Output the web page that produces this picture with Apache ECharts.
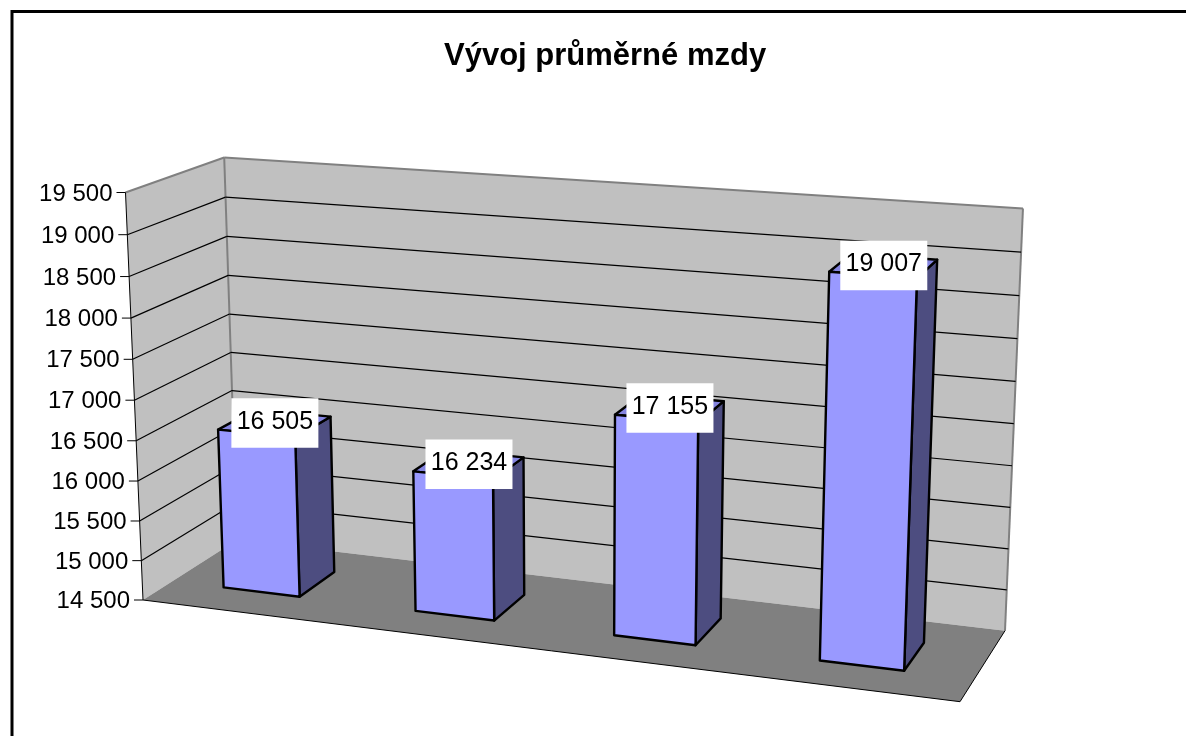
<!DOCTYPE html>
<html>
<head>
<meta charset="utf-8">
<title>Vývoj průměrné mzdy</title>
<script src="https://cdn.jsdelivr.net/npm/echarts@6/dist/echarts.min.js"></script>
<style>
    html, body { margin: 0; padding: 0; background: #fff; }
    #main { width: 1186px; height: 736px; }
</style>
</head>
<body>
<div id="main"></div>
<script>
var titleText = 'Vývoj průměrné mzdy';
var categories = ['1', '2', '3', '4'];
var wages = [16505, 16234, 17155, 19007];
var wageLabels = ['16 505', '16 234', '17 155', '19 007'];
var tickValues = [14500, 15000, 15500, 16000, 16500, 17000, 17500, 18000, 18500, 19000, 19500];
var tickLabels = ['14 500', '15 000', '15 500', '16 000', '16 500', '17 000', '17 500', '18 000', '18 500', '19 000', '19 500'];

// box as seen in the picture, corners go front left, front right, back right, back left
var floorQuad = [[143, 600], [960, 701.7], [1005, 630.7], [237, 540]];
var wallHeights = [407.5, 448, 422.2, 382.5];
var vanish = [576.7, 10700]; // upright edges meet far below the chart
var heightBend = -0.038;     // lower ticks sit a little closer together
var barShare = 0.4;          // share of a category band
var barDepth = [0.3, 0.7];
var bandShift = -0.007;
var labelBox = [87, 49.5];

// unit square -> floor homography
function makeQuad(q) {
    var dx1 = q[1][0] - q[2][0], dx2 = q[3][0] - q[2][0], sx = q[0][0] - q[1][0] + q[2][0] - q[3][0];
    var dy1 = q[1][1] - q[2][1], dy2 = q[3][1] - q[2][1], sy = q[0][1] - q[1][1] + q[2][1] - q[3][1];
    var den = dx1 * dy2 - dx2 * dy1;
    var g = (sx * dy2 - dx2 * sy) / den;
    var h = (dx1 * sy - sx * dy1) / den;
    var a = q[1][0] - q[0][0] + g * q[1][0], b = q[3][0] - q[0][0] + h * q[3][0];
    var d = q[1][1] - q[0][1] + g * q[1][1], e = q[3][1] - q[0][1] + h * q[3][1];
    return function (u, w) {
        var W = g * u + h * w + 1;
        return [(a * u + b * w + q[0][0]) / W, (d * u + e * w + q[0][1]) / W];
    };
}

var floorAt = makeQuad(floorQuad);

// u across the floor, w into the depth, t up the wall (all 0..1)
function project(u, w, t) {
    var p = floorAt(u, w);
    var wh = wallHeights;
    var full = (1 - u) * (1 - w) * wh[0] + u * (1 - w) * wh[1] + u * w * wh[2] + (1 - u) * w * wh[3];
    var s = (1 + heightBend) * t / (1 + heightBend * t);
    var k = s * full / (vanish[1] - p[1]);
    return [p[0] + (p[0] - vanish[0]) * k, p[1] + (p[1] - vanish[1]) * k];
}

// grid position from the axes, turned into 0..1 for the projection
function toUnit(params, api, cat, value) {
    var p = api.coord([cat, value]);
    var r = params.coordSys;
    return [(p[0] - r.x) / r.width, (r.y + r.height - p[1]) / r.height];
}

function poly(points, fill, stroke, width) {
    return {
        type: 'polygon',
        shape: { points: points },
        style: { fill: fill, stroke: stroke || null, lineWidth: width || 0, lineJoin: 'round' }
    };
}

function line(p1, p2, color, width) {
    return {
        type: 'line',
        shape: { x1: p1[0], y1: p1[1], x2: p2[0], y2: p2[1] },
        style: { stroke: color, lineWidth: width }
    };
}

function renderWalls() {
    var fl0 = project(0, 0, 0), fr0 = project(1, 0, 0), br0 = project(1, 1, 0), bl0 = project(0, 1, 0);
    var fl1 = project(0, 0, 1), br1 = project(1, 1, 1), bl1 = project(0, 1, 1);
    return {
        type: 'group',
        children: [
            poly([bl0, br0, br1, bl1], '#C0C0C0'),
            poly([fl0, bl0, bl1, fl1], '#C0C0C0'),
            poly([fl0, fr0, br0, bl0], '#808080'),
            line(fl1, bl1, '#808080', 2),
            line(bl1, br1, '#808080', 2),
            line(bl1, bl0, '#808080', 2),
            line(br1, br0, '#808080', 2),
            line(fl0, fl1, '#000', 1),
            line(fl0, fr0, '#000', 1),
            line(fr0, br0, '#000', 1)
        ]
    };
}

function renderTick(params, api) {
    var t = toUnit(params, api, 0, api.value(1))[1];
    var front = project(0, 0, t), back = project(0, 1, t), right = project(1, 1, t);
    var children = [];
    if (params.dataIndex > 0 && params.dataIndex < tickValues.length - 1) {
        children.push(line(front, back, '#000', 1.2));
        children.push(line(back, right, '#000', 1.2));
    }
    children.push(line([front[0] - 9, front[1]], front, '#000', 1));
    children.push({
        type: 'text',
        style: {
            text: tickLabels[params.dataIndex],
            x: front[0] - 13,
            y: front[1] + 1.5,
            align: 'right',
            verticalAlign: 'middle',
            font: '24px "Liberation Sans"',
            fill: '#000'
        }
    });
    return { type: 'group', children: children };
}

function renderBar(params, api) {
    var mid = toUnit(params, api, api.value(0), api.value(1));
    var band = api.size([1, 0])[0] / params.coordSys.width;
    var u0 = mid[0] + bandShift - band * barShare / 2;
    var u1 = mid[0] + bandShift + band * barShare / 2;
    var w0 = barDepth[0], w1 = barDepth[1], t = mid[1];
    var centre = project((u0 + u1) / 2, (w0 + w1) / 2, t);
    return {
        type: 'group',
        children: [
            poly([project(u1, w0, 0), project(u1, w1, 0), project(u1, w1, t), project(u1, w0, t)], '#4D4D80', '#000', 2.4),
            poly([project(u0, w0, t), project(u1, w0, t), project(u1, w1, t), project(u0, w1, t)], '#8585E0', '#000', 2.4),
            poly([project(u0, w0, 0), project(u1, w0, 0), project(u1, w0, t), project(u0, w0, t)], '#9999FF', '#000', 2.4),
            {
                type: 'rect',
                shape: { x: centre[0] - labelBox[0] / 2, y: centre[1] - labelBox[1] / 2, width: labelBox[0], height: labelBox[1] },
                style: { fill: '#fff' }
            },
            {
                type: 'text',
                style: {
                    text: wageLabels[params.dataIndex],
                    x: centre[0],
                    y: centre[1] - 1,
                    align: 'center',
                    verticalAlign: 'middle',
                    font: '25px "Liberation Sans"',
                    fill: '#000'
                }
            }
        ]
    };
}

var option = {
    backgroundColor: '#fff',
    animation: false,
    title: {
        text: titleText,
        left: 444,
        top: 41,
        padding: 0,
        textStyle: { fontFamily: '"Liberation Sans"', fontWeight: 'bold', fontSize: 31, color: '#000' }
    },
    grid: { left: 0, right: 0, top: 0, bottom: 0 },
    xAxis: { type: 'category', data: categories, show: false },
    yAxis: { type: 'value', min: 14500, max: 19500, interval: 500, show: false },
    graphic: [{
        type: 'polyline',
        shape: { points: [[12, 736], [12, 11.5], [1186, 11.5]] },
        style: { stroke: '#000', lineWidth: 3, fill: null }
    }],
    series: [
        { type: 'custom', name: 'walls', renderItem: renderWalls, data: [[0, 14500]], silent: true, z: 1 },
        {
            type: 'custom',
            name: 'ticks',
            renderItem: renderTick,
            data: tickValues.map(function (v) { return [0, v]; }),
            silent: true,
            z: 2
        },
        {
            type: 'custom',
            name: 'Průměrná mzda',
            renderItem: renderBar,
            data: wages.map(function (v, i) { return [i, v]; }),
            z: 3
        }
    ]
};

var myChart = echarts.init(document.getElementById('main'));
myChart.setOption(option);
</script>
</body>
</html>
